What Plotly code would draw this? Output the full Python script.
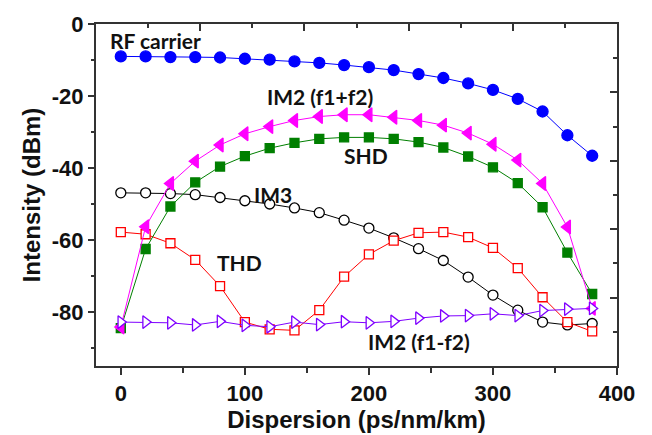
import plotly.graph_objects as go

dispersion = [0, 20, 40, 60, 80, 100, 120, 140, 160, 180, 200, 220, 240, 260, 280, 300, 320, 340, 360, 380]

rf_carrier = [-9.0, -9.0, -9.2, -9.2, -9.3, -9.65, -9.9, -10.4, -10.8, -11.4, -12.0, -12.8, -13.9, -15.0, -16.5, -18.3, -20.8, -24.3, -30.9, -36.6]
im2_sum = [-84.2, -56.3, -44.3, -38.1, -33.6, -30.5, -28.5, -26.8, -25.7, -25.2, -25.2, -25.9, -26.8, -28.1, -30.3, -33.4, -37.8, -44.3, -56.4, -79.0]
shd = [-84.5, -62.5, -50.7, -44.0, -39.6, -36.7, -34.5, -33.0, -31.9, -31.5, -31.5, -31.9, -32.8, -34.3, -36.8, -39.8, -44.2, -50.9, -63.5, -75.0]
im3 = [-46.9, -46.9, -47.1, -47.4, -48.2, -49.1, -50.0, -51.1, -52.4, -54.5, -56.7, -59.4, -62.4, -65.7, -70.3, -75.3, -79.5, -82.8, -83.6, -83.2]
thd = [-57.8, -58.4, -60.9, -65.5, -72.8, -82.8, -84.8, -85.1, -79.5, -70.2, -64.0, -60.2, -58.0, -57.8, -59.2, -62.2, -67.8, -75.9, -82.8, -85.4]
im2_diff = [-82.8, -82.8, -83.0, -83.6, -82.6, -83.7, -84.1, -82.8, -83.5, -82.7, -83.0, -82.6, -81.7, -81.1, -81.0, -80.5, -81.0, -79.6, -79.2, -79.0]

x_ticks = [0, 100, 200, 300, 400]
y_ticks = [0, -20, -40, -60, -80]

labels = ["RF carrier", "IM2 (f1+f2)", "SHD", "IM3", "THD", "IM2 (f1-f2)"]
label_x = [-10.5, 160.6, 197.8, 122.7, 96, 240.5]
label_y = [-4.5, -20.0, -36.6, -47.3, -66.2, -88.3]

fig = go.Figure()

def add(y, color, symbol, size, fill):
    fig.add_trace(go.Scatter(
        x=dispersion, y=y, mode="lines+markers",
        line=dict(color=color, width=1),
        marker=dict(symbol=symbol, size=size,
                    color=color if fill else "white",
                    line=dict(color=color, width=1.3)),
        cliponaxis=False, showlegend=False))

add(im3, "#000000", "circle", 10, False)
add(thd, "#FF0000", "square", 9, False)
add(shd, "#007F00", "square", 9, True)
add(im2_sum, "#FF00FF", "triangle-left", 12, True)
add(im2_diff, "#7F00FF", "triangle-right", 11, False)
add(rf_carrier, "#0000FF", "circle", 11, True)

# secondary (mirror) axes drawn with their own tick spacing
fig.add_trace(go.Scatter(x=[], y=[], xaxis="x2", yaxis="y2", showlegend=False, hoverinfo="skip"))

for i, t in enumerate(labels):
    fig.add_annotation(x=label_x[i], y=label_y[i], text=t, showarrow=False,
                       xanchor="left" if i == 0 else "center", yanchor="middle",
                       font=dict(family="Lato", size=21, color="#111", weight="bold"))

axcol = "#333333"
tickfont = dict(family="Liberation Sans", size=22, color="#111", weight="bold")
titlefont = dict(family="Liberation Sans", size=24, color="#111", weight="bold")

fig.update_layout(
    width=652, height=435,
    margin=dict(l=96, r=35, t=16, b=63),
    paper_bgcolor="white", plot_bgcolor="white",
    xaxis=dict(range=[-20, 400], tickvals=x_ticks, ticktext=[str(v) for v in x_ticks],
               showgrid=False, zeroline=False, showline=True, linecolor=axcol, linewidth=2,
               ticks="outside", ticklen=7, tickwidth=1.5, tickcolor=axcol,
               minor=dict(dtick=50, tick0=0, ticks="outside", ticklen=5, tickwidth=1.5, tickcolor=axcol),
               tickfont=tickfont,
               title=dict(text="Dispersion (ps/nm/km)", font=titlefont, standoff=0)),
    yaxis=dict(range=[-95, 0], tickvals=y_ticks, ticktext=[str(v) for v in y_ticks],
               showgrid=False, zeroline=False, showline=True, linecolor=axcol, linewidth=2,
               ticks="outside", ticklen=6, tickwidth=1.5, tickcolor=axcol,
               minor=dict(dtick=10, tick0=0, ticks="outside", ticklen=3, tickwidth=1.5, tickcolor=axcol),
               tickfont=tickfont,
               title=dict(text="Intensity (dBm)", font=titlefont, standoff=4)),
    xaxis2=dict(overlaying="x", side="top", anchor="y", range=[0, 100], dtick=20, tick0=0,
                showticklabels=False, showgrid=False, zeroline=False, showline=True,
                linecolor=axcol, linewidth=2, ticks="inside", ticklen=7, tickwidth=1.5, tickcolor=axcol,
                minor=dict(dtick=10, tick0=0, ticks="inside", ticklen=3.5, tickwidth=1.5, tickcolor=axcol)),
    yaxis2=dict(overlaying="y", side="right", anchor="x", range=[0, 100], dtick=20, tick0=0,
                showticklabels=False, showgrid=False, zeroline=False, showline=True,
                linecolor=axcol, linewidth=2, ticks="inside", ticklen=7, tickwidth=1.5, tickcolor=axcol,
                minor=dict(dtick=10, tick0=0, ticks="inside", ticklen=4.5, tickwidth=1.5, tickcolor=axcol)),
)

fig.write_html("out.html")
